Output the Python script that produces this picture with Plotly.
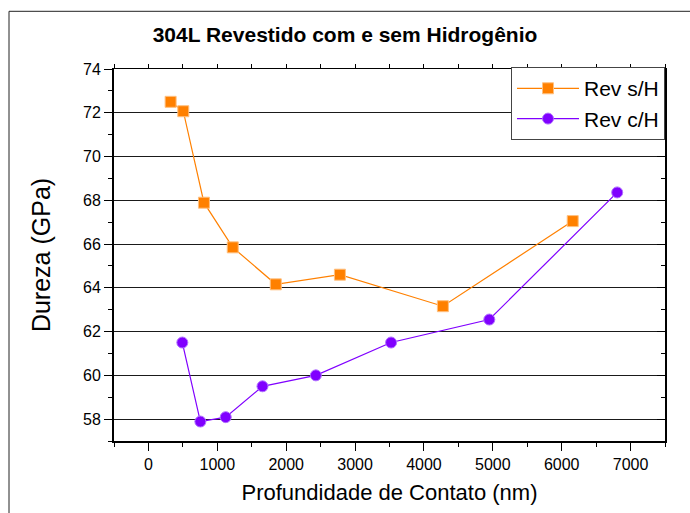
import plotly.graph_objects as go

# Contact depth (nm) and hardness (GPa) for coated 304L, without / with hydrogen
depth_sem_h = [322, 506, 806, 1224, 1849, 2780, 4275, 6160]
dureza_sem_h = [72.5, 72.07, 67.89, 65.85, 64.16, 64.6, 63.16, 67.05]

depth_com_h = [492, 754, 1122, 1656, 2431, 3523, 4949, 6806]
dureza_com_h = [61.5, 57.89, 58.09, 59.5, 60.0, 61.5, 62.55, 68.36]

x_range = [-500, 7500]
y_range = [57, 74]

title_text = "304L Revestido com e sem Hidrogênio"
x_title = "Profundidade de Contato (nm)"
y_title = "Dureza (GPa)"

orange = "#FF8000"
purple = "#8000FF"
font_family = "Liberation Sans, Arial, sans-serif"

W, H = 690, 513
ml, mr, mt, mb = 114, 25, 69, 70

fig = go.Figure()

fig.add_trace(go.Scatter(
    x=depth_sem_h, y=dureza_sem_h, mode="lines+markers", name="Rev s/H",
    line=dict(color=orange, width=1.2),
    marker=dict(symbol="square", size=11, color=orange,
                line=dict(color="#FFC080", width=1)),
))
fig.add_trace(go.Scatter(
    x=depth_com_h, y=dureza_com_h, mode="lines+markers", name="Rev c/H",
    line=dict(color=purple, width=1.2),
    marker=dict(symbol="circle", size=11, color=purple,
                line=dict(color="#B070FF", width=1)),
))
# empty trace that carries the top / right frame axes
fig.add_trace(go.Scatter(x=[], y=[], xaxis="x2", yaxis="y2",
                         showlegend=False, hoverinfo="skip"))

tick_font = dict(family=font_family, size=16, color="black")

fig.update_layout(
    width=W, height=H,
    margin=dict(l=ml, r=mr, t=mt, b=mb),
    paper_bgcolor="white", plot_bgcolor="white",
    title=dict(text="<b>" + title_text + "</b>", x=345 / W, xanchor="center",
               y=1 - 35 / H, yanchor="middle",
               font=dict(family=font_family, size=21, color="black")),
    xaxis=dict(
        range=x_range, dtick=1000, tick0=0, showgrid=False, zeroline=False,
        showline=True, linecolor="black", linewidth=2,
        ticks="outside", ticklen=8, tickwidth=1, tickcolor="black",
        minor=dict(dtick=500, ticks="outside", ticklen=4, tickcolor="black", showgrid=False),
        tickfont=tick_font,
        title=dict(text=x_title, standoff=12,
                   font=dict(family=font_family, size=22, color="black")),
    ),
    yaxis=dict(
        range=y_range, dtick=2, tick0=58, zeroline=False,
        showgrid=True, gridcolor="#1a1a1a", gridwidth=1,
        showline=True, linecolor="black", linewidth=2,
        ticks="outside", ticklen=8, tickwidth=1, tickcolor="black",
        minor=dict(dtick=1, ticks="outside", ticklen=4, tickcolor="black", showgrid=False),
        tickfont=tick_font,
        title=dict(text=y_title, standoff=25,
                   font=dict(family=font_family, size=25, color="black")),
    ),
    xaxis2=dict(
        range=x_range, dtick=1000, tick0=0, overlaying="x", side="top",
        anchor="y", showgrid=False, zeroline=False, showticklabels=False,
        showline=True, linecolor="black", linewidth=1,
        ticks="outside", ticklen=4, tickcolor="black",
        minor=dict(dtick=500, ticks="outside", ticklen=4, tickcolor="black", showgrid=False),
    ),
    yaxis2=dict(
        range=y_range, dtick=2, tick0=58, overlaying="y", side="right",
        anchor="x", showgrid=False, zeroline=False, showticklabels=False,
        showline=True, linecolor="black", linewidth=1.5,
        ticks="inside", ticklen=8, tickcolor="black",
        minor=dict(dtick=1, ticks="inside", ticklen=4, tickcolor="black", showgrid=False),
    ),
    legend=dict(
        x=1.0, xanchor="right", y=1.005, yanchor="top",
        bgcolor="white", bordercolor="#444444", borderwidth=1,
        font=dict(family=font_family, size=21, color="black"),
        itemwidth=62,
    ),
    showlegend=True,
)

# outer frame around the whole figure (open on the right and bottom edges)
pw = W - ml - mr
ph = H - mt - mb
fig.add_shape(
    type="rect", xref="paper", yref="paper",
    x0=(9 - ml) / pw, x1=(700 - ml) / pw,
    y0=(H - 530 - mb) / ph, y1=(H - 11 - mb) / ph,
    line=dict(color="#222222", width=1), fillcolor="rgba(0,0,0,0)", layer="below",
)

fig.write_html("out.html")
